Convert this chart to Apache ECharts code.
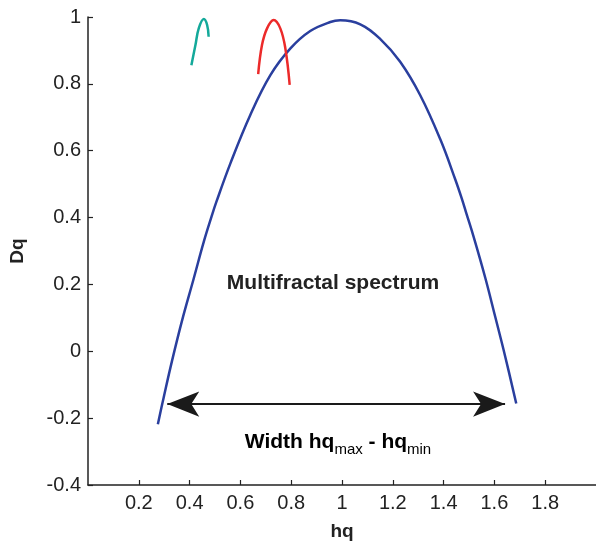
<!DOCTYPE html>
<html><head><meta charset="utf-8">
<script src="https://cdn.jsdelivr.net/npm/echarts@6/dist/echarts.min.js"></script>
<style>html,body{margin:0;padding:0;background:#fff}#c{width:596px;height:545px}</style>
</head><body><div id="c"></div>
<script>
// Main spectrum (blue)
const blueHq = [0.275,0.298,0.331,0.371,0.416,0.456,0.486,0.505,0.561,0.639,0.718,0.797,0.875,0.954,0.993,1.072,1.151,1.229,1.308,1.387,1.446,1.472,1.489,1.518,1.564,1.603,1.642,1.686];
const blueDq = [-0.218,-0.138,-0.028,0.094,0.217,0.328,0.402,0.446,0.563,0.707,0.826,0.906,0.958,0.985,0.990,0.978,0.934,0.866,0.766,0.634,0.514,0.456,0.414,0.343,0.220,0.104,-0.014,-0.156];
// Small spectrum (teal)
const tealHq = [0.407,0.423,0.436,0.456,0.469,0.475];
const tealDq = [0.856,0.916,0.966,0.994,0.976,0.941];
// Small spectrum (red)
const redHq = [0.670,0.685,0.705,0.731,0.757,0.777,0.794];
const redDq = [0.829,0.916,0.966,0.991,0.966,0.906,0.797];
// Width arrow
const arrowHq = [0.312,1.642];
const arrowDq = [-0.158,-0.158];
// Axes
const xMin = 0, xMax = 2, xStep = 0.2;
const xTicks = [0.2,0.4,0.6,0.8,1,1.2,1.4,1.6,1.8];
const yMin = -0.4, yMax = 1, yStep = 0.2;
const yTicks = [-0.4,-0.2,0,0.2,0.4,0.6,0.8,1];

const zip = (a,b) => a.map((v,i)=>[v,b[i]]);
const FONT = '"Liberation Sans", Arial, Helvetica, sans-serif';
const chart = echarts.init(document.getElementById('c'));
chart.setOption({
  animation:false,
  grid:{left:88,right:0,top:17,bottom:60,containLabel:false,outerBoundsMode:'none'},
  xAxis:{type:'value',min:xMin,max:xMax,interval:xStep,
    name:'hq',nameLocation:'middle',nameGap:37,
    nameTextStyle:{fontFamily:FONT,fontWeight:'bold',fontSize:19,color:'#222'},
    axisLine:{show:true,onZero:false,lineStyle:{color:'#222',width:1.5}},
    axisTick:{show:true,inside:true,length:5,customValues:xTicks,lineStyle:{color:'#222',width:1.2}},
    axisLabel:{fontFamily:FONT,fontSize:20,color:'#222',margin:8,customValues:xTicks,
      formatter:v=>String(+(+v).toFixed(1))},
    splitLine:{show:false}},
  yAxis:{type:'value',min:yMin,max:yMax,interval:yStep,
    name:'Dq',nameLocation:'middle',nameGap:61,
    nameTextStyle:{fontFamily:FONT,fontWeight:'bold',fontSize:19,color:'#222'},
    axisLine:{show:true,onZero:false,lineStyle:{color:'#222',width:1.5}},
    axisTick:{show:true,inside:true,length:5,customValues:yTicks,lineStyle:{color:'#222',width:1.2}},
    axisLabel:{fontFamily:FONT,fontSize:20,color:'#222',margin:7,customValues:yTicks,
      formatter:v=>String(+(+v).toFixed(1))},
    splitLine:{show:false}},
  series:[
    {type:'line',data:zip(blueHq,blueDq),smooth:0.4,showSymbol:false,
      lineStyle:{color:'#2a3f9e',width:2.5}},
    {type:'line',data:zip(tealHq,tealDq),smooth:0.4,showSymbol:false,
      lineStyle:{color:'#14a99a',width:2.5}},
    {type:'line',data:zip(redHq,redDq),smooth:0.4,showSymbol:false,
      lineStyle:{color:'#ec2a2a',width:2.5}},
    {type:'line',data:[],silent:true,
      markLine:{silent:true,symbol:['arrow','arrow'],symbolSize:[19,32],
        label:{show:false},
        lineStyle:{color:'#1a1a1a',width:2.2,type:'solid'},
        data:[[{coord:[arrowHq[0],arrowDq[0]]},{coord:[arrowHq[1],arrowDq[1]]}]]}}
  ],
  graphic:[
    {type:'text',style:{text:'Multifractal spectrum',x:333,y:283,
      align:'center',verticalAlign:'middle',fontFamily:FONT,fontWeight:'bold',fontSize:21,fill:'#222'}},
    {type:'text',style:{x:338,y:442,align:'center',verticalAlign:'middle',
      text:'{b|Width hq}{s|max}{b| - hq}{s|min}',
      rich:{b:{fontFamily:FONT,fontWeight:'bold',fontSize:21,color:'#222',lineHeight:24},
            s:{fontFamily:FONT,fontSize:15,color:'#222',padding:[16,0,0,0]}}}}
  ]
});
</script></body></html>
